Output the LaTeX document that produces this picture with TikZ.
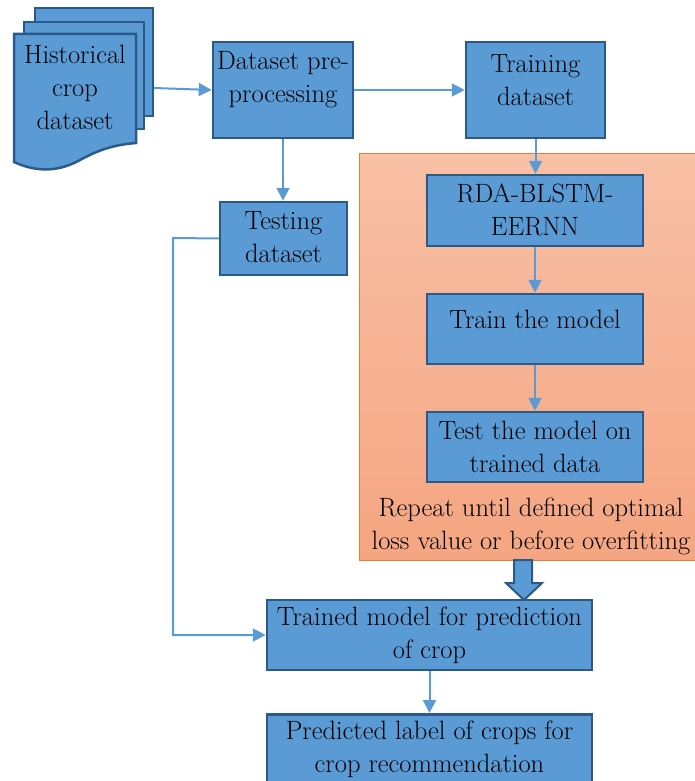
\documentclass[tikz,border=0pt]{standalone}
\usetikzlibrary{arrows.meta}
\definecolor{boxfill}{HTML}{5B9BD5}
\definecolor{boxline}{HTML}{2B5A88}
\definecolor{conn}{HTML}{5B9BD5}
\definecolor{orgtop}{HTML}{F8C0A6}
\definecolor{orgbot}{HTML}{F5A581}
\definecolor{orgline}{HTML}{ED7D31}
\tikzset{
  box/.style={draw=boxline, fill=boxfill, line width=2.5pt, inner sep=0pt},
  txt/.style={align=center, inner sep=0pt, font=\rmfamily\fontsize{26.5}{33}\selectfont},
  conn/.style={draw=conn, line width=2pt, -{Triangle[length=13pt,width=13pt]}},
}
\begin{document}
\begin{tikzpicture}[x=1pt,y=-1pt]
\useasboundingbox (0,0) rectangle (694,781);
% orange region
\node[draw=orgline, line width=1pt, top color=orgtop, bottom color=orgbot, minimum width=360pt, minimum height=407pt, inner sep=0pt, anchor=north west] (loop) at (359,153) {};
% document stack
\draw[box] (35,8) rectangle (153,116);
\draw[box] (24,22) rectangle (144,129);
\draw[box] (14,34) -- (136,34) -- (136,143)
  .. controls (110,145) and (95,152) .. (80,160)
  .. controls (62,170) and (40,174) .. (14,162) -- cycle;
\coordinate (hist) at (154,88);
\node[txt] at (75,87) {Historical\\crop\\dataset};
% boxes
\node[box, minimum width=140pt, minimum height=96pt] (pre) at (283,90) {};
\node[txt] at (283,80) {Dataset pre-\\processing};
\node[box, minimum width=139pt, minimum height=96pt] (train) at (535.5,90) {};
\node[txt] at (535.5,80) {Training\\dataset};
\node[box, minimum width=127pt, minimum height=73pt] (test) at (283.5,238.5) {};
\node[txt] at (283.5,237) {Testing\\dataset};
\node[box, minimum width=216pt, minimum height=71pt] (rda) at (535,210.5) {};
\node[txt] at (535,210) {RDA-BLSTM-\\EERNN};
\node[box, minimum width=216pt, minimum height=70pt] (tm) at (535,329) {};
\node[txt] at (535,319) {Train the model};
\node[box, minimum width=216pt, minimum height=70pt] (ttm) at (535,447) {};
\node[txt] at (535,447) {Test the model on\\trained data};
\node[txt] (rep) at (531,526) {Repeat until defined optimal\\loss value or before overfitting};
\node[box, minimum width=325pt, minimum height=70pt] (tmp) at (429.5,635) {};
\node[txt] at (429.5,635) {Trained model for prediction\\of crop};
\node[box, minimum width=325pt, minimum height=90pt, anchor=north] (pred) at (429.5,713) {};
\node[txt] at (429.5,749.5) {Predicted label of crops for\\crop recommendation};
% connectors
\draw[conn] (hist) -- (pre.west |- 0,90);
\draw[conn] (pre.east) -- (train.west);
\draw[conn] (pre.south) -- (test.north -| pre.south);
\draw[conn] (train.south) -- (rda.north -| train.south);
\draw[conn] (rda.south) -- (tm.north);
\draw[conn] (tm.south) -- (ttm.north);
\draw[conn] (test.west) -- (173,238) -- (173,635) -- (tmp.west);
\draw[conn] (tmp.south) -- (pred.north);
% block arrow
\draw[draw=boxline, fill=boxfill, line width=2pt, line join=miter]
  (514,560) -- (532,560) -- (532,583) -- (542,583) -- (524,600) -- (506,583) -- (514,583) -- cycle;
\end{tikzpicture}
\end{document}
